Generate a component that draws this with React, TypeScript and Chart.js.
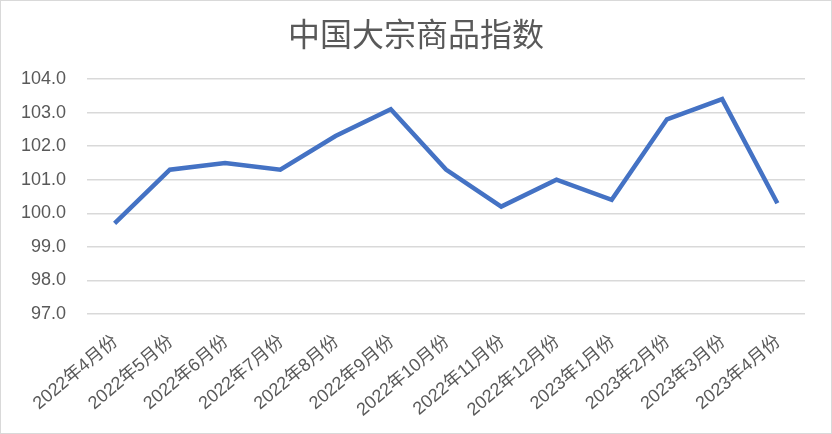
import React, { useEffect, useRef } from "react";
import { Chart, registerables } from "chart.js";

Chart.register(...registerables);

const categories = [
  "2022年4月份", "2022年5月份", "2022年6月份", "2022年7月份", "2022年8月份",
  "2022年9月份", "2022年10月份", "2022年11月份", "2022年12月份", "2023年1月份",
  "2023年2月份", "2023年3月份", "2023年4月份",
];
const indexValues = [99.7, 101.3, 101.5, 101.3, 102.3, 103.1, 101.3, 100.2, 101.0, 100.4, 102.8, 103.4, 100.3];
const yMin = 97;
const yMax = 104;
const yStep = 1;
const titleText = "中国大宗商品指数";

const FONT = "'Liberation Sans', 'Noto Sans CJK SC', sans-serif";

const centeredTitle = {
  id: "centeredTitle",
  afterDraw(chart: any) {
    const ctx = chart.ctx;
    ctx.save();
    ctx.fillStyle = "#595959";
    ctx.font = `32px ${FONT}`;
    ctx.textAlign = "center";
    ctx.textBaseline = "middle";
    ctx.fillText(titleText, chart.width / 2, 36);
    ctx.restore();
  },
};

export default function App() {
  const ref = useRef<HTMLCanvasElement>(null);
  useEffect(() => {
    document.body.style.margin = "0";
    const chart = new Chart(ref.current!, {
      type: "line",
      data: {
        labels: categories,
        datasets: [
          {
            data: indexValues,
            borderColor: "#4472C4",
            borderWidth: 4.5,
            pointRadius: 0,
            tension: 0,
            borderJoinStyle: "miter",
          },
        ],
      },
      plugins: [centeredTitle],
      options: {
        animation: false,
        responsive: false,
        layout: { padding: { left: 0, right: 26, top: 78, bottom: 0 } },
        plugins: {
          legend: { display: false },
          tooltip: { enabled: false },
          title: { display: false },
        },
        scales: {
          x: {
            offset: true,
            grid: { display: false },
            border: { display: false },
            ticks: {
              color: "#595959",
              font: { family: FONT, size: 18 },
              maxRotation: 40,
              minRotation: 40,
              autoSkip: false,
              padding: 9,
              labelOffset: 1,
            },
            afterFit: (s: any) => {
              s.height = 119;
            },
          },
          y: {
            min: yMin,
            max: yMax,
            grid: { color: "#d9d9d9", lineWidth: 1.5, drawTicks: false },
            border: { display: false },
            ticks: {
              stepSize: yStep,
              color: "#595959",
              font: { family: FONT, size: 18 },
              padding: 21,
              callback: (v: any) => Number(v).toFixed(1),
            },
            afterFit: (s: any) => {
              s.width = 86;
            },
          },
        },
      },
    });
    return () => chart.destroy();
  }, []);
  return (
    <div style={{ width: 832, height: 434, boxSizing: "border-box", border: "1px solid #d9d9d9", background: "#fff" }}>
      <canvas ref={ref} width={830} height={432} style={{ display: "block" }} />
    </div>
  );
}
